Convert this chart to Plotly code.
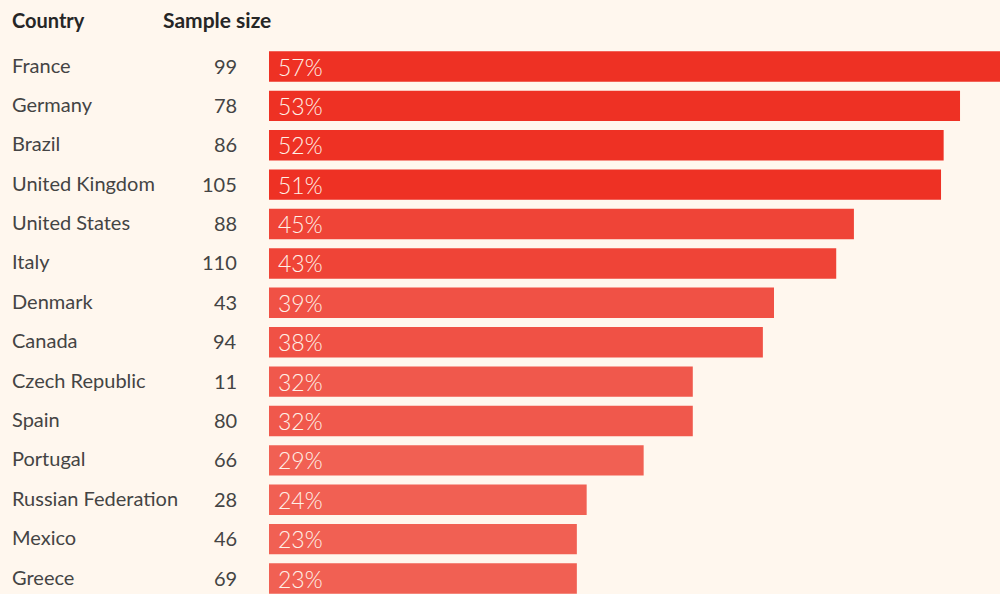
import plotly.graph_objects as go

countries = ["France", "Germany", "Brazil", "United Kingdom", "United States", "Italy",
             "Denmark", "Canada", "Czech Republic", "Spain", "Portugal",
             "Russian Federation", "Mexico", "Greece"]
sample_sizes = [99, 78, 86, 105, 88, 110, 43, 94, 11, 80, 66, 28, 46, 69]
shares = [57.3, 52.75, 51.5, 51.3, 44.65, 43.3, 38.55, 37.7, 32.35, 32.35, 28.6, 24.25, 23.5, 23.5]
share_labels = ["57%", "53%", "52%", "51%", "45%", "43%", "39%", "38%", "32%", "32%",
                "29%", "24%", "23%", "23%"]
bar_colors = ["#EE3124", "#EE3124", "#EE3124", "#EE3124", "#EF4437", "#EF4437",
              "#F05145", "#F05145", "#F0584C", "#F0584C", "#F16053", "#F16053",
              "#F16053", "#F16053"]

BG = "#FFF7EE"
TXT = "#444444"
FONT = "Lato"

W, H = 1000, 594
px_per_unit = 13.1
x0_px = 269
x_range = [-x0_px / px_per_unit, (W - x0_px) / px_per_unit]

first_center = 66.5
pitch = 39.385
y_top = -first_center / pitch
y_bot = (H - first_center) / pitch
y_idx = list(range(len(countries)))

fig = go.Figure()
fig.add_trace(go.Bar(
    x=shares, y=y_idx, orientation="h",
    marker=dict(color=bar_colors, line=dict(width=0)),
    width=0.772, hoverinfo="skip",
))

for i, (c, s, lab) in enumerate(zip(countries, sample_sizes, share_labels)):
    fig.add_annotation(x=10 / W, xref="paper", y=i, yref="y", text=c, showarrow=False,
                       xanchor="left", yanchor="middle", yshift=2,
                       font=dict(family=FONT, size=20, color=TXT, weight=400))
    fig.add_annotation(x=239 / W, xref="paper", y=i, yref="y", text=str(s), showarrow=False,
                       xanchor="right", yanchor="middle", yshift=1,
                       font=dict(family=FONT, size=20, color=TXT, weight=400))
    fig.add_annotation(x=0, xref="x", y=i, yref="y", text=lab, showarrow=False,
                       xanchor="left", yanchor="middle", xshift=7, yshift=0,
                       font=dict(family=FONT, size=23, color="#FFF1E8", weight=300))

fig.add_annotation(x=10 / W, xref="paper", y=1 - 20 / H, yref="paper", text="<b>Country</b>",
                   showarrow=False, xanchor="left", yanchor="middle",
                   font=dict(family=FONT, size=20, color="#262626"))
fig.add_annotation(x=161 / W, xref="paper", y=1 - 20 / H, yref="paper", text="<b>Sample size</b>",
                   showarrow=False, xanchor="left", yanchor="middle",
                   font=dict(family=FONT, size=21, color="#262626"))

fig.update_layout(
    width=W, height=H,
    margin=dict(l=0, r=0, t=0, b=0),
    paper_bgcolor=BG, plot_bgcolor=BG,
    showlegend=False,
    xaxis=dict(range=x_range, visible=False, fixedrange=True),
    yaxis=dict(range=[y_bot, y_top], visible=False, fixedrange=True),
)

fig.write_html("out.html", config={"displayModeBar": False},
               post_script="document.body.style.margin='0';document.body.style.overflow='hidden';")
